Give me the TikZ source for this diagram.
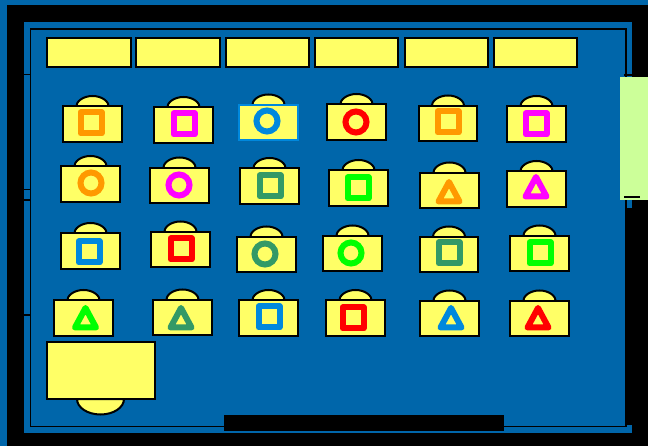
\documentclass[tikz,border=0pt]{standalone}
\definecolor{bgblue}{HTML}{0066AA}
\definecolor{deskyellow}{HTML}{FFFF66}
\definecolor{palegreen}{HTML}{CCFF99}
\definecolor{mkorange}{HTML}{FF9900}
\definecolor{mkmagenta}{HTML}{FF00FF}
\definecolor{mkblue}{HTML}{0088DD}
\definecolor{mkred}{HTML}{FF0000}
\definecolor{mkgreen}{HTML}{00FF00}
\definecolor{mksea}{HTML}{339966}
\tikzset{
  frameline/.style={draw=black,line width=1.7pt},
  yel/.style={fill=deskyellow,draw=black,line width=2pt},
  sqmark/.style={line width=6pt,line join=round}
}
% left, top, border colour
\newcommand{\deskbody}[3]{%
  \draw[yel] (#1+13,#2+1) arc[start angle=180,end angle=360,x radius=16.5,y radius=11.5] -- cycle;
  \draw[yel,draw=#3] (#1,#2) rectangle ++(58.5,35.5);
}
\newcommand{\mkring}[3]{\draw[line width=6pt,draw=#3] (#1,#2) circle[radius=10.5];}
\newcommand{\mksq}[3]{\draw[sqmark,draw=#3] (#1-10.5,#2-10.5) rectangle (#1+10.5,#2+10.5);}
\newcommand{\mktri}[3]{\draw[line width=6pt,line join=round,draw=#3] (#1,#2-10) -- (#1+10.5,#2+9.5) -- (#1-10.5,#2+9.5) -- cycle;}
\begin{document}
\begin{tikzpicture}[x=1pt,y=-1pt]
\useasboundingbox (0,0) rectangle (648,446);
\fill[bgblue] (0,0) rectangle (648,446);
\fill[black] (7,5) rectangle (648,446);
\fill[bgblue] (24,22) rectangle (631.5,433);
% right and lower black mass
\fill[black] (625.5,208) rectangle (648,425);
% inner frame
\draw[frameline] (30.5,29) -- (625.7,29) -- (625.7,426.5) -- (30.5,426.5) -- cycle;
% left wall ticks
\foreach \yy in {74.5,189.5,200,315}{\draw[black,line width=1.3pt] (24,\yy) -- (30,\yy);}
% bottom bar
\fill[black] (224,415) rectangle (504,431);
% top row
\foreach \xa/\xb in {47/130.5,136/219.5,225.5/309,315/398,404.5/487.5,493.5/576.5}{
  \draw[yel] (\xa,38.5) rectangle (\xb,66.7);
}
% pale panel
\draw[black,line width=1.5pt] (624,75) -- (632,75);
\fill[palegreen] (620,77) rectangle (648,200);
\draw[black,line width=1.5pt] (624,197) -- (640,197);
% desks
\deskbody{63}{106.5}{black}   \mksq{91}{123}{mkorange}
\deskbody{154}{107.5}{black}  \mksq{184}{124}{mkmagenta}
\deskbody{239}{105}{mkblue} \mkring{267}{121}{mkblue}
\deskbody{327}{104.5}{black}  \mkring{356}{122}{mkred}
\deskbody{418.5}{106}{black}\mksq{448}{122}{mkorange}
\deskbody{507}{106.5}{black}  \mksq{536}{124}{mkmagenta}
\deskbody{61}{166.5}{black}   \mkring{91}{183}{mkorange}
\deskbody{150}{168}{black}\mkring{179}{185}{mkmagenta}
\deskbody{240}{168.5}{black}  \mksq{270}{186}{mksea}
\deskbody{329}{170.5}{black}\mksq{358}{188}{mkgreen}
\deskbody{420}{173}{black}  \mktri{449}{192}{mkorange}
\deskbody{507}{171.5}{black}\mktri{536}{187}{mkmagenta}
\deskbody{61}{233.5}{black}   \mksq{89}{252}{mkblue}
\deskbody{151}{232}{black}\mksq{181}{249}{mkred}
\deskbody{237}{237}{black}\mkring{265}{254}{mksea}
\deskbody{323}{236}{black}\mkring{351}{253}{mkgreen}
\deskbody{419.5}{237}{black}\mksq{449}{253}{mksea}
\deskbody{510}{236}{black}\mksq{540}{253}{mkgreen}
\deskbody{54}{300.5}{black}   \mktri{85.5}{318}{mkgreen}
\deskbody{153}{300}{black}\mktri{181}{318}{mksea}
\deskbody{239}{300.5}{black}\mksq{269}{317}{mkblue}
\deskbody{326}{300.5}{black}  \mksq{353}{318}{mkred}
\deskbody{420}{301}{black}  \mktri{451}{318}{mkblue}
\deskbody{510}{301}{black}  \mktri{538}{318}{mkred}
% large desk
\draw[yel] (77,399) arc[start angle=180,end angle=0,x radius=23.5,y radius=15.5] -- cycle;
\draw[yel] (46.8,342) rectangle (155,399);
\end{tikzpicture}
\end{document}
